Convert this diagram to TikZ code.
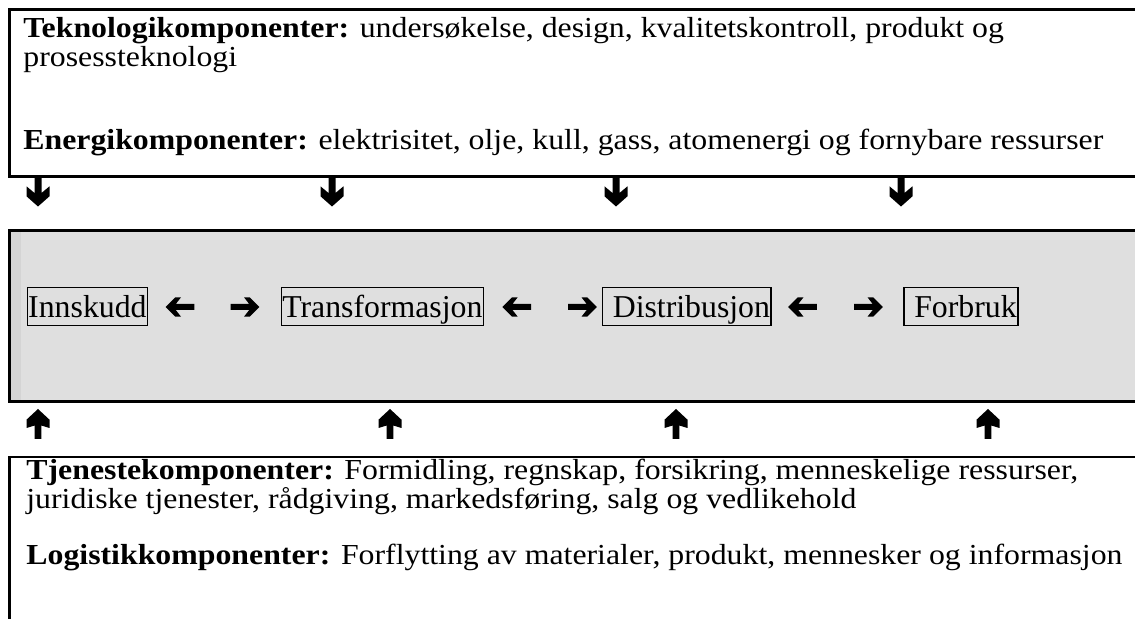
\documentclass[tikz,border=0pt]{standalone}
\usepackage{fontspec}
\setmainfont{Liberation Serif}
% panel text: slightly widened face
\newfontfamily\panelfont[FakeStretch=1.097]{Liberation Serif}
\definecolor{bandfill}{RGB}{223,223,223}
\definecolor{bandedge}{RGB}{212,212,212}
\begin{document}
\begin{tikzpicture}[x=0.5pt,y=-0.5pt,
  frame/.style={line width=1.3pt},
  txt/.style={anchor=base west,inner sep=0pt,text height=0.7em,text depth=0.2em,
    font=\panelfont\fontsize{14.5}{16.5}\selectfont},
  stage/.style={draw,line width=0.75pt,anchor=base west,inner xsep=0.5pt,inner ysep=0pt,
    text height=15pt,text depth=3.8pt,font=\fontsize{15.9}{18}\selectfont},
  larr/.pic={\fill (-14.3,0) -- (-4.6,-9.7) -- (1,-9.7) -- (-4.2,-3) -- (14.3,-3) -- (14.3,3)
      -- (-4.2,3) -- (1,9.7) -- (-4.6,9.7) -- cycle;},
  rarr/.pic={\fill (14.3,0) -- (4.6,-9.7) -- (-1,-9.7) -- (4.2,-3) -- (-14.3,-3) -- (-14.3,3)
      -- (4.2,3) -- (-1,9.7) -- (4.6,9.7) -- cycle;},
  darr/.pic={\fill (-3.5,0) -- (3.5,0) -- (3.5,15) -- (11.5,8.3) -- (11.5,18.3) -- (0,28.5)
      -- (-11.5,18.3) -- (-11.5,8.3) -- (-3.5,15) -- cycle;},
  uarr/.pic={\fill (-3.3,0) -- (3.3,0) -- (3.3,-13.5) -- (11.5,-11) -- (11.5,-19.3) -- (0,-30)
      -- (-11.5,-19.3) -- (-11.5,-11) -- (-3.3,-13.5) -- cycle;}
]
\useasboundingbox (0,0) rectangle (1135,619);

% upper panel: technology and energy
\draw[frame] (1150,9.5) -- (9.5,9.5) -- (9.5,176.5) -- (1150,176.5);
\node[txt] (tek1) at (23,38) {\textbf{Teknologikomponenter:} undersøkelse, design, kvalitetskontroll, produkt og};
\node[txt] (tek2) at (23,67) {prosessteknologi};
\node[txt] (ene) at (23,149.5) {\textbf{Energikomponenter:} elektrisitet, olje, kull, gass, atomenergi og fornybare ressurser};

% arrows down into the chain
\foreach \xx in {38,332,616,901} \pic at (\xx,178) {darr};

% shaded band with the value chain
\fill[bandfill] (9.5,230.5) rectangle (1150,401.5);
\fill[bandedge] (10.5,231.5) rectangle (21,400.5);
\draw[frame] (1150,230.5) -- (9.5,230.5) -- (9.5,401.5) -- (1150,401.5);

\node[stage] (inn) at (26.5,317.7) {Innskudd\hspace{0.25em}};
\node[stage] (tra) at (280.5,317.7) {Transformasjon\hspace{0.25em}};
\node[stage] (dis) at (601.5,317.7) {\hspace{0.3em}Distribusjon\hspace{0.25em}};
\node[stage] (for) at (903,317.7) {\hspace{0.3em}Forbruk};

\pic at (180,307) {larr};   \pic at (245,307) {rarr};
\pic at (516.7,307) {larr}; \pic at (582.5,307) {rarr};
\pic at (802.5,307) {larr}; \pic at (868.5,307) {rarr};

% arrows up into the chain
\foreach \xx in {38,390,676,988} \pic at (\xx,439) {uarr};

% lower panel: services and logistics
\draw[frame] (1150,457) -- (9.5,457) -- (9.5,630);
\node[txt] (tje1) at (26,480) {\textbf{Tjenestekomponenter:} Formidling, regnskap, forsikring, menneskelige ressurser,};
\node[txt] (tje2) at (26,508.5) {juridiske tjenester, rådgiving, markedsføring, salg og vedlikehold};
\node[txt] (log) at (26,565) {\textbf{Logistikkomponenter:} Forflytting av materialer, produkt, mennesker og informasjon};
\end{tikzpicture}
\end{document}
